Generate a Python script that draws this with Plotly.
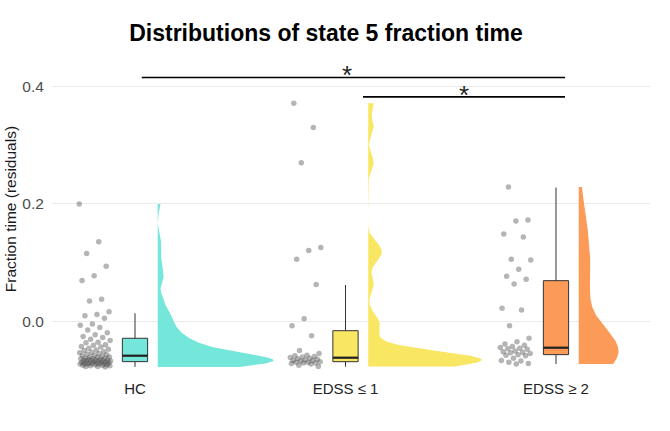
import numpy as np
import plotly.graph_objects as go

categories = ["HC", "EDSS ≤ 1", "EDSS ≥ 2"]
colors = ["#74E6DA", "#F9E763", "#FC9A57"]

hc_values = [0.200, 0.136, 0.116, 0.094, 0.078, 0.070, 0.038, 0.035, 0.017, 0.012,
             0.010, 0.006, -0.004, -0.006, -0.010, -0.014, -0.019, -0.022, -0.025, -0.027,
             -0.030, -0.032, -0.035, -0.036, -0.039, -0.040, -0.042, -0.043, -0.045, -0.047,
             -0.048, -0.049, -0.051, -0.052, -0.053, -0.054, -0.055, -0.056, -0.057, -0.058,
             -0.059, -0.060, -0.060, -0.061, -0.062, -0.062, -0.063, -0.063, -0.064, -0.064,
             -0.065, -0.065, -0.066, -0.066, -0.066, -0.067, -0.067, -0.067, -0.068, -0.068,
             -0.069, -0.069, -0.070, -0.070, -0.070, -0.071, -0.071, -0.071, -0.072, -0.072,
             -0.072, -0.073, -0.073, -0.074, -0.074, -0.075, -0.075, -0.076, -0.076, -0.077]

edss1_values = [0.371, 0.330, 0.270, 0.126, 0.121, 0.106, 0.063, 0.005, -0.007,
                -0.024, -0.049, -0.054, -0.057, -0.058, -0.059, -0.060, -0.061,
                -0.062, -0.063, -0.064, -0.065, -0.066, -0.066, -0.067, -0.068,
                -0.069, -0.069, -0.070, -0.070, -0.071, -0.072, -0.074, -0.076]

edss2_values = [0.229, 0.173, 0.171, 0.149, 0.144, 0.106, 0.105, 0.089, 0.077, 0.072,
                0.064, 0.023, 0.020, -0.007, -0.028, -0.034, -0.038, -0.040, -0.042,
                -0.044, -0.045, -0.046, -0.047, -0.050, -0.051, -0.052, -0.053, -0.054,
                -0.056, -0.057, -0.058, -0.062, -0.066, -0.067, -0.069, -0.071, -0.072]

groups = [hc_values, edss1_values, edss2_values]

# box statistics
box_lower = [-0.0768, -0.0765, -0.0720]
box_q1 = [-0.0679, -0.0680, -0.0560]
box_median = [-0.0578, -0.0612, -0.0442]
box_q3 = [-0.0282, -0.0153, 0.0697]
box_upper = [0.0143, 0.0624, 0.2280]

# kernel bandwidth adjustment per group
violin_adjust = [1.0, 0.66, 1.0]

# significance brackets
sig_x0 = [1.032, 2.083]
sig_x1 = [3.043, 3.043]
sig_y = [0.415, 0.382]
sig_star_x = [2.006, 2.563]
sig_label = ["*", "*"]

y_ticks = [0.0, 0.2, 0.4]
y_ticktext = ["0.0", "0.2", "0.4"]


def kde(vals, adjust):
    v = np.asarray(vals, dtype=float)
    n = len(v)
    sd = v.std(ddof=1)
    iqr = np.subtract(*np.percentile(v, [75, 25]))
    bw = adjust * 0.9 * min(sd, iqr / 1.34) * n ** (-0.2)
    grid = np.linspace(v.min(), v.max(), 512)
    dens = np.exp(-0.5 * ((grid[:, None] - v[None, :]) / bw) ** 2).sum(axis=1) / (n * bw * np.sqrt(2 * np.pi))
    return grid, dens


fig = go.Figure()

kdes = [kde(g, a) for g, a in zip(groups, violin_adjust)]
global_max = max(d.max() for _, d in kdes)
violin_half = 0.55
violin_off = 0.108
point_off = -0.19
point_spread = 0.075
box_w = 0.12

for i, (cat, vals, col) in enumerate(zip(categories, groups, colors)):
    c = i + 1
    n = len(vals)
    jit = [c + point_off + point_spread * (2 * ((k * 0.6180339887 + 0.13 * i) % 1.0) - 1) for k in range(n)]
    fig.add_trace(go.Scatter(x=jit, y=vals, mode="markers",
                             marker=dict(size=5.5, color="rgba(70,70,70,0.4)", line=dict(width=0)),
                             showlegend=False, hoverinfo="skip"))
    grid, dens = kdes[i]
    xs = list(c + violin_off + dens / global_max * violin_half) + [c + violin_off, c + violin_off]
    ys = list(grid) + [grid[-1], grid[0]]
    fig.add_trace(go.Scatter(x=xs, y=ys, mode="lines", fill="toself", fillcolor=col,
                             line=dict(width=0, color=col), showlegend=False, hoverinfo="skip"))
    fig.add_trace(go.Box(x=[c], q1=[box_q1[i]], median=[box_median[i]], q3=[box_q3[i]],
                         lowerfence=[box_lower[i]], upperfence=[box_upper[i]],
                         width=box_w, fillcolor=col, line=dict(color="#333333", width=1),
                         whiskerwidth=0, boxpoints=False, showlegend=False, hoverinfo="skip"))
    fig.add_trace(go.Scatter(x=[c - box_w / 2, c + box_w / 2], y=[box_median[i]] * 2, mode="lines",
                             line=dict(color="#222222", width=2.2), showlegend=False, hoverinfo="skip"))

for x0, x1, y, sx, lab in zip(sig_x0, sig_x1, sig_y, sig_star_x, sig_label):
    fig.add_shape(type="line", x0=x0, x1=x1, y0=y, y1=y, xref="x", yref="y",
                  line=dict(color="black", width=1.6))
    fig.add_annotation(x=sx, y=y, xref="x", yref="y", text=lab, showarrow=False,
                       yanchor="middle", yshift=2, font=dict(size=26, color="#222222",
                                                              family="Liberation Sans, Arial"))

fig.add_annotation(text="Fraction time (residuals)", xref="paper", yref="paper",
                   x=-0.0702, y=0.531, textangle=-90, showarrow=False,
                   xanchor="center", yanchor="middle",
                   font=dict(size=15.5, color="#1a1a1a", family="Liberation Sans, Arial"))

fig.update_layout(
    width=670, height=431,
    margin=dict(l=52, r=20, t=60, b=53),
    paper_bgcolor="white", plot_bgcolor="white",
    font=dict(family="Liberation Sans, Arial", color="#333333"),
    title=dict(text="<b>Distributions of state 5 fraction time</b>", xref="container", yref="container",
               x=0.4866, y=0.9234, xanchor="center", yanchor="middle",
               font=dict(size=23, color="black", family="Liberation Sans, Arial")),
    xaxis=dict(range=[0.6057, 3.4466], tickvals=[1, 2, 3], ticktext=categories,
               showgrid=False, zeroline=False, showline=False, ticks="",
               tickfont=dict(size=15, color="#222222")),
    yaxis=dict(range=[-0.0957, 0.4447], tickvals=y_ticks, ticktext=y_ticktext,
               showgrid=True, gridcolor="#EBEBEB", gridwidth=1, zeroline=False, showline=False,
               ticks="outside", ticklen=4, tickcolor="rgba(0,0,0,0)",
               tickfont=dict(size=15.5, color="#4D4D4D")),
)

# remove the default page margin so the figure sits at the window's top-left corner
fig.write_html("out.html", config={"displayModeBar": False},
               post_script="document.body.style.margin='0px';document.body.style.padding='0px';")
